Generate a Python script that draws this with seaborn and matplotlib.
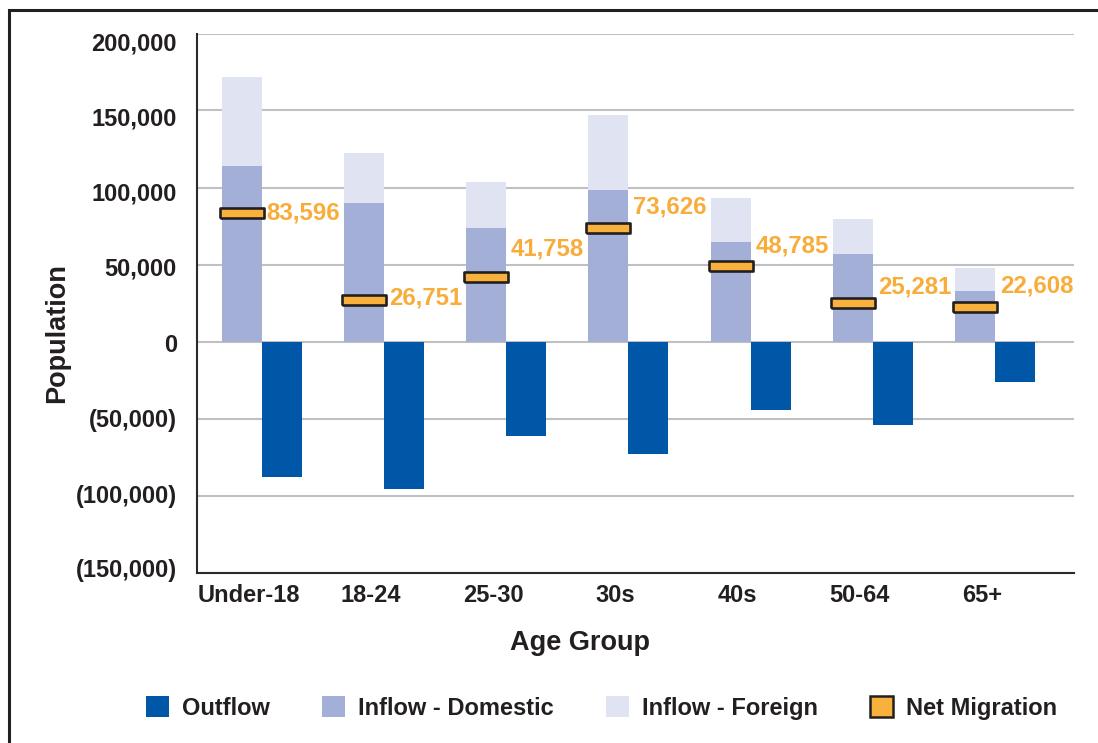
import numpy as np
import pandas as pd
import matplotlib
matplotlib.use("Agg")
import matplotlib.pyplot as plt
import seaborn as sns
from matplotlib.patches import Patch, Rectangle
from matplotlib.markers import MarkerStyle
from matplotlib.transforms import ScaledTranslation
from matplotlib.ticker import FuncFormatter

# ---------------- data ----------------
age_groups = ["Under-18", "18-24", "25-30", "30s", "40s", "50-64", "65+"]
inflow_domestic = [114000, 90000, 74000, 98500, 64500, 56500, 33000]
inflow_foreign = [57500, 32500, 29500, 48500, 29000, 23000, 15000]
outflow = [-88000, -95500, -61500, -73000, -44500, -54500, -26000]
net_migration = [83596, 26751, 41758, 73626, 48785, 25281, 22608]
y_ticks = [-150000, -100000, -50000, 0, 50000, 100000, 150000, 200000]

# ---------------- style / placement tweaks ----------------
net_label_dy_pt = [0, 1.5, 20, 15, 15, 11, 15]
ytick_label_shift_px = [-4, -1, 0, 1, 2, 4, 6, 8]   # downward shift per tick label

C_OUT = "#0057A8"
C_DOM = "#A4AFD8"
C_FOR = "#DFE3F2"
C_NET = "#F9B13D"
C_NET_TXT = "#F8AD3A"
C_TXT = "#231F20"
C_GRID = "#C0C0C2"

sns.set_theme(style="white")
plt.rcParams["font.family"] = ["Liberation Sans", "DejaVu Sans"]
plt.rcParams["font.weight"] = "bold"

fig = plt.figure(figsize=(10.98, 7.43), dpi=100)
ax = fig.add_axes([197 / 1098, 1 - 572.5 / 743, 877 / 1098, 539 / 743])

n = len(age_groups)
total_inflow = [d + f for d, f in zip(inflow_domestic, inflow_foreign)]

df_total = pd.DataFrame({
    "age": age_groups * 2,
    "side": ["Inflow"] * n + ["Outflow"] * n,
    "value": total_inflow + outflow,
})
df_dom = pd.DataFrame({
    "age": age_groups * 2,
    "side": ["Inflow"] * n + ["Outflow"] * n,
    "value": inflow_domestic + outflow,
})

bar_w = 0.655
common = dict(x="age", y="value", hue="side", hue_order=["Inflow", "Outflow"],
              order=age_groups, width=bar_w, dodge=True, errorbar=None,
              legend=False, saturation=1, linewidth=0, ax=ax)
sns.barplot(data=df_total, palette={"Inflow": C_FOR, "Outflow": C_OUT}, **common)
sns.barplot(data=df_dom, palette={"Inflow": C_DOM, "Outflow": C_OUT}, **common)

# net migration markers
xpos = np.arange(n)
half = bar_w / 4
rect = MarkerStyle([(-1, -0.206), (1, -0.206), (1, 0.206), (-1, 0.206), (-1, -0.206)])
sns.scatterplot(x=xpos - half, y=net_migration, marker=rect, s=31.5 ** 2,
                color=C_NET, edgecolor=C_TXT, linewidth=1.9, zorder=5, ax=ax,
                legend=False)

for i, v in enumerate(net_migration):
    ax.annotate(f"{v:,}", (xpos[i], v), xytext=(3.6, net_label_dy_pt[i]),
                textcoords="offset points", ha="left", va="center",
                fontsize=17.3, fontweight="bold", color=C_NET_TXT, zorder=6)

# axes
ax.set_xlim(-0.529, 6.646)
ax.set_ylim(-150000, 200000)
ax.set_yticks(y_ticks)
ax.yaxis.set_major_formatter(FuncFormatter(
    lambda v, _: f"({abs(v):,.0f})" if v < 0 else f"{v:,.0f}"))
ax.grid(axis="y", color=C_GRID, linewidth=1.5, zorder=0)
ax.set_axisbelow(True)

for s in ["top", "right"]:
    ax.spines[s].set_visible(False)
for s in ["left", "bottom"]:
    ax.spines[s].set_color("#2a2a2a")
    ax.spines[s].set_linewidth(1.5)

ax.tick_params(axis="both", length=0, labelsize=17, labelcolor=C_TXT)
ax.tick_params(axis="y", pad=14.5)
ax.tick_params(axis="x", pad=8)
for lab in ax.get_yticklabels() + ax.get_xticklabels():
    lab.set_fontweight("bold")
for lab in ax.get_xticklabels():
    lab.set_transform(lab.get_transform() + ScaledTranslation(-13 / 100, 0, fig.dpi_scale_trans))
for lab, dy in zip(ax.get_yticklabels(), ytick_label_shift_px):
    lab.set_transform(lab.get_transform() + ScaledTranslation(0, -dy / 100, fig.dpi_scale_trans))

ax.set_xlabel("Age Group", fontsize=19.5, fontweight="bold", color=C_TXT)
ax.set_ylabel("Population", fontsize=19.5, fontweight="bold", color=C_TXT)
ax.xaxis.set_label_coords(0.437, -0.131)
ax.xaxis.label.set_va("center")
ax.yaxis.set_label_coords(-0.1596, 0.445)
ax.yaxis.label.set_va("center")

# legend
handles = [
    Patch(facecolor=C_OUT, edgecolor="none"),
    Patch(facecolor=C_DOM, edgecolor="none"),
    Patch(facecolor=C_FOR, edgecolor="none"),
    Patch(facecolor=C_NET, edgecolor=C_TXT, linewidth=1.8),
]
labels = ["Outflow", "Inflow - Domestic", "Inflow - Foreign", "Net Migration"]
fig.legend(handles, labels, loc="center", bbox_to_anchor=(601.5 / 1098, 1 - 708 / 743),
           ncol=4, frameon=False, prop={"size": 17, "weight": "bold"},
           handlelength=0.97, handleheight=0.97, handletextpad=0.55,
           columnspacing=2.22, labelcolor=C_TXT)

# outer frame
fig.add_artist(Rectangle((9 / 1098, -0.2), 1.5, (1 - 9.5 / 743) + 0.2,
                         transform=fig.transFigure, fill=False,
                         edgecolor=C_TXT, linewidth=2.2, zorder=10))

fig.savefig("out.png", dpi=100)
